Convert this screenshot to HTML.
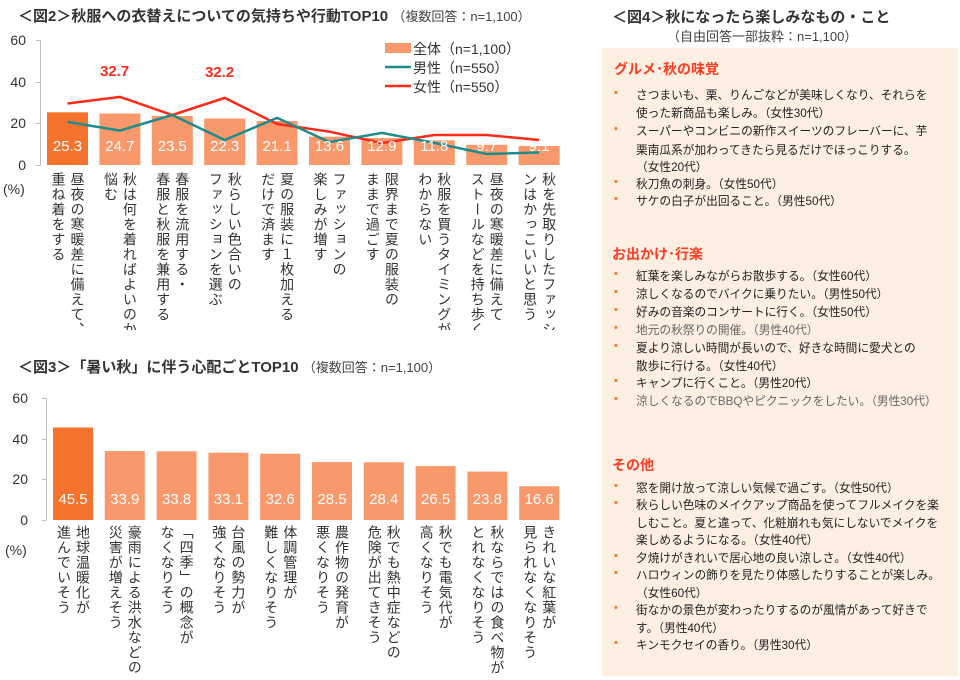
<!DOCTYPE html>
<html><head><meta charset="utf-8">
<style>
*{margin:0;padding:0;box-sizing:border-box}
body{width:960px;height:680px;background:#fff;position:relative;overflow:hidden;font-family:"Liberation Sans","Noto Sans CJK JP",sans-serif;color:#333}
.a{position:absolute;white-space:nowrap}
.v{position:absolute;writing-mode:vertical-rl;font-size:14px;line-height:19px;letter-spacing:1px;color:#333;width:38px;overflow:hidden;white-space:nowrap}
.t{font-weight:bold;font-size:15px;color:#333}
.s{font-weight:normal;font-size:13px;color:#444}
.tick{font-size:14px;color:#333;text-align:right;width:24px}
.val{color:#fff;font-size:15px;width:44px;text-align:center}
.p{position:absolute;white-space:nowrap;font-size:11.7px;color:#222;left:636px}
.b{position:absolute;left:614px;font-size:11px;color:#F26B21}
.h{position:absolute;left:614px;font-size:14px;font-weight:bold;color:#FF3B22}
.g{color:#666}
</style></head><body>

<div class="a t" style="left:18px;top:5px">＜図2＞秋服への衣替えについての気持ちや行動TOP10 <span class="s">（複数回答：n=1,100）</span></div>

<svg style="position:absolute;left:0;top:0" width="600" height="680">
<g stroke="#BFBFBF" stroke-width="1">
<line x1="40.5" y1="40" x2="40.5" y2="165"/>
<line x1="36" y1="40.5" x2="40.5" y2="40.5"/><line x1="36" y1="82.5" x2="40.5" y2="82.5"/><line x1="36" y1="123.5" x2="40.5" y2="123.5"/><line x1="36" y1="165.5" x2="40.5" y2="165.5"/>
</g>
<g>
<rect x="47" y="112.3" width="41" height="52.7" fill="#F5732C"/>
<rect x="99.4" y="113.5" width="41" height="51.5" fill="#F9996B"/>
<rect x="151.8" y="116" width="41" height="49" fill="#F9996B"/>
<rect x="204.2" y="118.5" width="41" height="46.5" fill="#F9996B"/>
<rect x="256.6" y="121" width="41" height="44" fill="#F9996B"/>
<rect x="309" y="136.7" width="41" height="28.3" fill="#F9996B"/>
<rect x="361.4" y="138.1" width="41" height="26.9" fill="#F9996B"/>
<rect x="413.8" y="140.4" width="41" height="24.6" fill="#F9996B"/>
<rect x="466.2" y="144.8" width="41" height="20.2" fill="#F9996B"/>
<rect x="518.6" y="146" width="41" height="19" fill="#F9996B"/>
</g>
<polyline fill="none" stroke="#FF2A1A" stroke-width="2.5" points="67.5,103.5 119.9,96.9 172.3,115 224.7,97.9 277.1,124 329.5,131.7 381.9,143.1 434.3,135 486.7,135 539.1,140"/>
<polyline fill="none" stroke="#1F8C8C" stroke-width="2.5" points="67.5,121.9 119.9,130.6 172.3,115 224.7,140 277.1,117.9 329.5,142.1 381.9,132.9 434.3,142.9 486.7,154 539.1,152.5"/>
<rect x="385" y="43" width="26" height="10" fill="#F9996B"/>
<line x1="385" y1="67" x2="411" y2="67" stroke="#1F8C8C" stroke-width="2.5"/>
<line x1="385" y1="86" x2="411" y2="86" stroke="#FF2A1A" stroke-width="2.5"/>

<g stroke="#BFBFBF" stroke-width="1">
<line x1="46.5" y1="398" x2="46.5" y2="520"/>
<line x1="42" y1="398.5" x2="46.5" y2="398.5"/><line x1="42" y1="439.5" x2="46.5" y2="439.5"/><line x1="42" y1="479.5" x2="46.5" y2="479.5"/><line x1="42" y1="520.5" x2="46.5" y2="520.5"/>
</g>
<rect x="53" y="427.5" width="40" height="92.5" fill="#F5732C"/>
<rect x="104.8" y="451.1" width="40" height="68.9" fill="#F9996B"/>
<rect x="156.6" y="451.3" width="40" height="68.7" fill="#F9996B"/>
<rect x="208.4" y="452.7" width="40" height="67.3" fill="#F9996B"/>
<rect x="260.2" y="453.7" width="40" height="66.3" fill="#F9996B"/>
<rect x="312" y="462.1" width="40" height="57.9" fill="#F9996B"/>
<rect x="363.8" y="462.3" width="40" height="57.7" fill="#F9996B"/>
<rect x="415.6" y="466.1" width="40" height="53.9" fill="#F9996B"/>
<rect x="467.4" y="471.6" width="40" height="48.4" fill="#F9996B"/>
<rect x="519.2" y="486.3" width="40" height="33.7" fill="#F9996B"/>
</svg>

<div class="a tick" style="left:2px;top:32px">60</div>
<div class="a tick" style="left:2px;top:74px">40</div>
<div class="a tick" style="left:2px;top:115px">20</div>
<div class="a tick" style="left:2px;top:157px">0</div>
<div class="a" style="left:3px;top:181px;font-size:14px">(%)</div>

<div class="a" style="left:413px;top:39px;font-size:14px">全体（n=1,100）</div>
<div class="a" style="left:413px;top:58px;font-size:14px">男性（n=550）</div>
<div class="a" style="left:413px;top:77px;font-size:14px">女性（n=550）</div>

<div class="a" style="left:100px;top:63px;font-size:15px;font-weight:bold;color:#FF2A1A">32.7</div>
<div class="a" style="left:205px;top:64px;font-size:15px;font-weight:bold;color:#FF2A1A">32.2</div>

<div class="a val" style="left:45.5px;top:138px">25.3</div>
<div class="a val" style="left:97.9px;top:138px">24.7</div>
<div class="a val" style="left:150.3px;top:138px">23.5</div>
<div class="a val" style="left:202.7px;top:138px">22.3</div>
<div class="a val" style="left:255.1px;top:138px">21.1</div>
<div class="a val" style="left:307.5px;top:138px">13.6</div>
<div class="a val" style="left:359.9px;top:138px">12.9</div>
<div class="a val" style="left:412.3px;top:138px">11.8</div>
<div class="a val" style="left:464.7px;top:138px">9.7</div>
<div class="a val" style="left:517.1px;top:138px">9.1</div>

<div class="v" style="left:48.5px;top:172px;height:158px">昼夜の寒暖差に備えて、<br>重ね着をする</div>
<div class="v" style="left:100.9px;top:172px;height:158px">秋は何を着ればよいのか<br>悩む</div>
<div class="v" style="left:153.3px;top:172px;height:158px">春服を流用する・<br>春服と秋服を兼用する</div>
<div class="v" style="left:205.7px;top:172px;height:158px">秋らしい色合いの<br>ファッションを選ぶ</div>
<div class="v" style="left:258.1px;top:172px;height:158px">夏の服装に１枚加える<br>だけで済ます</div>
<div class="v" style="left:310.5px;top:172px;height:158px">ファッションの<br>楽しみが増す</div>
<div class="v" style="left:362.9px;top:172px;height:158px">限界まで夏の服装の<br>ままで過ごす</div>
<div class="v" style="left:415.3px;top:172px;height:158px">秋服を買うタイミングが<br>わからない</div>
<div class="v" style="left:467.7px;top:172px;height:158px">昼夜の寒暖差に備えて<br>ストールなどを持ち歩く</div>
<div class="v" style="left:520.1px;top:172px;height:158px">秋を先取りしたファッショ<br>ンはかっこいいと思う</div>

<div class="a t" style="left:18px;top:356px">＜図3＞「暑い秋」に伴う心配ごとTOP10 <span class="s">（複数回答：n=1,100）</span></div>
<div class="a tick" style="left:4px;top:390px">60</div>
<div class="a tick" style="left:4px;top:431px">40</div>
<div class="a tick" style="left:4px;top:471px">20</div>
<div class="a tick" style="left:4px;top:512px">0</div>
<div class="a" style="left:5px;top:542px;font-size:14px">(%)</div>

<div class="a val" style="left:51px;top:491px">45.5</div>
<div class="a val" style="left:102.8px;top:491px">33.9</div>
<div class="a val" style="left:154.6px;top:491px">33.8</div>
<div class="a val" style="left:206.4px;top:491px">33.1</div>
<div class="a val" style="left:258.2px;top:491px">32.6</div>
<div class="a val" style="left:310px;top:491px">28.5</div>
<div class="a val" style="left:361.8px;top:491px">28.4</div>
<div class="a val" style="left:413.6px;top:491px">26.5</div>
<div class="a val" style="left:465.4px;top:491px">23.8</div>
<div class="a val" style="left:517.2px;top:491px">16.6</div>

<div class="v" style="left:54px;top:525px;height:155px">地球温暖化が<br>進んでいそう</div>
<div class="v" style="left:105.8px;top:525px;height:155px">豪雨による洪水などの<br>災害が増えそう</div>
<div class="v" style="left:157.6px;top:525px;height:155px">「四季」の概念が<br>なくなりそう</div>
<div class="v" style="left:209.4px;top:525px;height:155px">台風の勢力が<br>強くなりそう</div>
<div class="v" style="left:261.2px;top:525px;height:155px">体調管理が<br>難しくなりそう</div>
<div class="v" style="left:313px;top:525px;height:155px">農作物の発育が<br>悪くなりそう</div>
<div class="v" style="left:364.8px;top:525px;height:155px">秋でも熱中症などの<br>危険が出てきそう</div>
<div class="v" style="left:416.6px;top:525px;height:155px">秋でも電気代が<br>高くなりそう</div>
<div class="v" style="left:468.4px;top:525px;height:155px">秋ならではの食べ物が<br>とれなくなりそう</div>
<div class="v" style="left:520.2px;top:525px;height:155px">きれいな紅葉が<br>見られなくなりそう</div>

<div class="a t" style="left:612px;top:6px">＜図4＞秋になったら楽しみなもの・こと</div>
<div class="a s" style="left:667px;top:26px">（自由回答一部抜粋：n=1,100）</div>
<div style="position:absolute;left:602px;top:48px;width:356px;height:628px;background:#FDF0E2"></div>

<div class="h" style="top:59px">グルメ･秋の味覚</div>
<div class="b" style="top:87px">•</div><div class="p" style="top:86px">さつまいも、栗、りんごなどが美味しくなり、それらを</div>
<div class="p" style="top:104px">使った新商品も楽しみ。（女性30代）</div>
<div class="b" style="top:123px">•</div><div class="p" style="top:122px">スーパーやコンビニの新作スイーツのフレーバーに、芋</div>
<div class="p" style="top:141px">栗南瓜系が加わってきたら見るだけでほっこりする。</div>
<div class="p" style="top:158px">（女性20代）</div>
<div class="b" style="top:176px">•</div><div class="p" style="top:175px">秋刀魚の刺身。（女性50代）</div>
<div class="b" style="top:193px">•</div><div class="p" style="top:192px">サケの白子が出回ること。（男性50代）</div>

<div class="h" style="top:244px;left:612px">お出かけ･行楽</div>
<div class="b" style="top:268px">•</div><div class="p" style="top:267px">紅葉を楽しみながらお散歩する。（女性60代）</div>
<div class="b" style="top:286px">•</div><div class="p" style="top:285px">涼しくなるのでバイクに乗りたい。（男性50代）</div>
<div class="b" style="top:304px">•</div><div class="p" style="top:303px">好みの音楽のコンサートに行く。（女性50代）</div>
<div class="b" style="top:322px">•</div><div class="p g" style="top:321px">地元の秋祭りの開催。（男性40代）</div>
<div class="b" style="top:340px">•</div><div class="p" style="top:339px">夏より涼しい時間が長いので、好きな時間に愛犬との</div>
<div class="p" style="top:357px">散歩に行ける。（女性40代）</div>
<div class="b" style="top:375px">•</div><div class="p" style="top:374px">キャンプに行くこと。（男性20代）</div>
<div class="b" style="top:393px">•</div><div class="p g" style="top:392px">涼しくなるのでBBQやピクニックをしたい。（男性30代）</div>

<div class="h" style="top:455px;left:612px">その他</div>
<div class="b" style="top:480px">•</div><div class="p" style="top:479px">窓を開け放って涼しい気候で過ごす。（女性50代）</div>
<div class="b" style="top:497px">•</div><div class="p" style="top:496px">秋らしい色味のメイクアップ商品を使ってフルメイクを楽</div>
<div class="p" style="top:514px">しむこと。夏と違って、化粧崩れも気にしないでメイクを</div>
<div class="p" style="top:531px">楽しめるようになる。（女性40代）</div>
<div class="b" style="top:550px">•</div><div class="p" style="top:549px">夕焼けがきれいで居心地の良い涼しさ。（女性40代）</div>
<div class="b" style="top:567px">•</div><div class="p" style="top:566px">ハロウィンの飾りを見たり体感したりすることが楽しみ。</div>
<div class="p" style="top:584px">（女性60代）</div>
<div class="b" style="top:602px">•</div><div class="p" style="top:601px">街なかの景色が変わったりするのが風情があって好きで</div>
<div class="p" style="top:619px">す。（男性40代）</div>
<div class="b" style="top:637px">•</div><div class="p" style="top:636px">キンモクセイの香り。（男性30代）</div>
</body></html>
